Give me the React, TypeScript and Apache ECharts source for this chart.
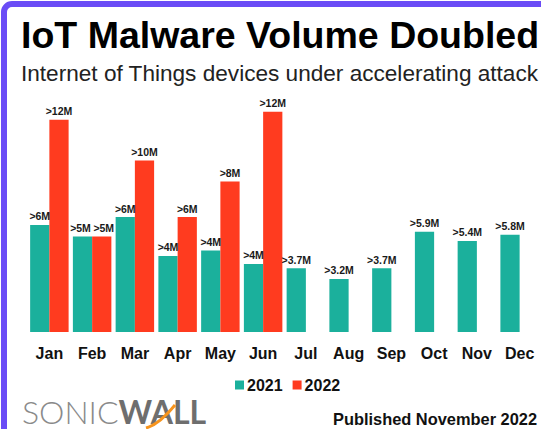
import React, { useEffect, useRef } from "react";
import * as echarts from "echarts";

const months = ["Jan", "Feb", "Mar", "Apr", "May", "Jun", "Jul", "Aug", "Sep", "Oct", "Nov", "Dec"];
const seriesNames = ["2021", "2022"];
const values2021 = [6.05, 5.4, 6.5, 4.3, 4.6, 3.85, 3.6, 3.0, 3.6, 5.67, 5.15, 5.5];
const values2022 = [12.0, 5.4, 9.7, 6.5, 8.5, 12.45, null, null, null, null, null, null];
const labels2021 = [">6M", ">5M", ">6M", ">4M", ">4M", ">4M", ">3.7M", ">3.2M", ">3.7M", ">5.9M", ">5.4M", ">5.8M"];
const labels2022 = [">12M", ">5M", ">10M", ">6M", ">8M", ">12M", "", "", "", "", "", ""];
const titleText = "IoT Malware Volume Doubled";
const subtitleText = "Internet of Things devices under accelerating attack";
const publishedText = "Published November 2022";

const FONT = "'Liberation Sans', Arial, sans-serif";
const TEAL = "#1bb09c";
const RED = "#ff3b1f";

export default function App() {
  const ref = useRef<HTMLDivElement>(null);
  useEffect(() => {
    if (!ref.current) return;
    const chart = echarts.init(ref.current, undefined, { renderer: "svg" });
    const labelStyle = {
      show: true,
      position: "top" as const,
      distance: 3,
      fontFamily: FONT,
      fontSize: 10.5,
      fontWeight: "bold" as const,
      color: "#1a1a1a",
    };
    // nudge the two adjacent equal labels (Feb) apart slightly
    const data2021 = values2021.map((v, i) =>
      values2022[i] !== null && Math.abs((values2022[i] as number) - v) < 0.5
        ? { value: v, label: { offset: [-2, 0] } }
        : v
    );
    const data2022 = values2022.map((v, i) =>
      v !== null && Math.abs(v - values2021[i]) < 0.5 ? { value: v, label: { offset: [2, 0] } } : v
    );
    chart.setOption({
      animation: false,
      backgroundColor: "#fff",
      title: {
        text: titleText,
        subtext: subtitleText,
        left: 16,
        top: 11,
        itemGap: 8,
        textStyle: { fontFamily: FONT, fontSize: 37.5, fontWeight: "bold", color: "#000" },
        subtextStyle: { fontFamily: FONT, fontSize: 22.6, color: "#222" },
      },
      legend: {
        data: seriesNames,
        left: 230,
        top: 372,
        icon: "rect",
        itemWidth: 9,
        itemHeight: 9,
        itemGap: 10,
        textStyle: { fontFamily: FONT, fontSize: 16, fontWeight: "bold", color: "#111", padding: [0, 0, 0, -2] },
      },
      grid: { left: 28, right: -3, top: 102, bottom: 97 },
      xAxis: {
        type: "category",
        data: months,
        axisLine: { show: false },
        axisTick: { show: false },
        axisLabel: { margin: 13, fontFamily: FONT, fontSize: 16, fontWeight: "bold", color: "#111" },
      },
      yAxis: { type: "value", min: 0, max: 13, show: false },
      series: [
        {
          name: seriesNames[0],
          type: "bar",
          data: data2021,
          itemStyle: { color: TEAL },
          barGap: "0%",
          barCategoryGap: "10%",
          label: { ...labelStyle, formatter: (p: any) => labels2021[p.dataIndex] },
        },
        {
          name: seriesNames[1],
          type: "bar",
          data: data2022,
          itemStyle: { color: RED },
          barGap: "0%",
          barCategoryGap: "10%",
          label: { ...labelStyle, formatter: (p: any) => labels2022[p.dataIndex] },
        },
      ],
      graphic: [
        {
          type: "rect",
          shape: { x: 4, y: 4, width: 600, height: 500, r: 8 },
          style: { fill: "none", stroke: "#6a4cf6", lineWidth: 6 },
          z: 100,
        },
        {
          type: "text",
          x: 22,
          y: 411,
          style: {
            text: "{a|SONIC}{b|WALL}",
            verticalAlign: "middle",
            rich: {
              a: { fontFamily: "Lato, 'Open Sans', sans-serif", fontWeight: 300, fontSize: 32, fill: "#8a8a8a" },
              b: { fontFamily: "Lato, 'Open Sans', sans-serif", fontWeight: "bold", fontSize: 32, fill: "#6e6e6e" },
            },
          },
        },
        {
          type: "bezierCurve",
          shape: { x1: 146, y1: 428, cpx1: 157, cpy1: 425, cpx2: 166, cpy2: 416, x2: 175, y2: 405 },
          style: { stroke: "#f7941d", lineWidth: 3, fill: "none" },
          z: 10,
        },
        {
          type: "text",
          x: 333,
          y: 419,
          style: {
            text: publishedText,
            fontFamily: FONT,
            fontSize: 16.4,
            fontWeight: "bold",
            fill: "#111",
            verticalAlign: "middle",
          },
        },
      ],
    });
    return () => chart.dispose();
  }, []);
  return (
    <div
      ref={ref}
      style={{ position: "fixed", left: 0, top: 0, width: 541, height: 429, background: "#fff" }}
    />
  );
}
